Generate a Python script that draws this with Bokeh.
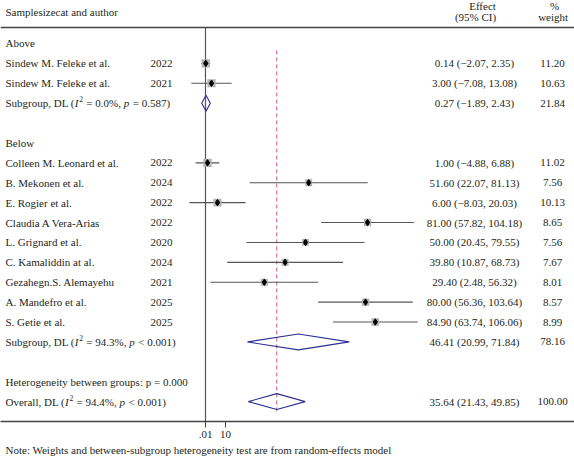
from bokeh.plotting import figure
from bokeh.models import ColumnDataSource, Range1d, Span, FixedTicker, Title
from bokeh.core.properties import value
from bokeh.embed import file_html
from bokeh.resources import INLINE

# ---------------- data ----------------
group_names = ["Above", "Below"]
authors = ["Sindew M. Feleke et al.", "Sindew M. Feleke et al.",
           "Colleen M. Leonard et al.", "B. Mekonen et al.", "E. Rogier et al.",
           "Claudia A Vera-Arias", "L. Grignard et al.", "C. Kamaliddin at al.",
           "Gezahegn.S. Alemayehu", "A. Mandefro et al.", "S. Getie et al."]
years = [2022, 2021, 2022, 2024, 2022, 2022, 2020, 2024, 2021, 2025, 2025]
groups = ["Above", "Above", "Below", "Below", "Below", "Below", "Below",
          "Below", "Below", "Below", "Below"]
effect = [0.14, 3.00, 1.00, 51.60, 6.00, 81.00, 50.00, 39.80, 29.40, 80.00, 84.90]
ci_lo = [-2.07, -7.08, -4.88, 22.07, -8.03, 57.82, 20.45, 10.87, 2.48, 56.36, 63.74]
ci_hi = [2.35, 13.08, 6.88, 81.13, 20.03, 104.18, 79.55, 68.73, 56.32, 103.64, 106.06]
weight = [11.20, 10.63, 11.02, 7.56, 10.13, 8.65, 7.56, 7.67, 8.01, 8.57, 8.99]

sub_est = [0.27, 46.41]
sub_lo = [-1.89, 20.99]
sub_hi = [2.43, 71.84]
sub_w = [21.84, 78.16]
sub_i2 = ["0.0%", "94.3%"]
sub_p = ["= 0.587", "< 0.001"]

overall_est, overall_lo, overall_hi, overall_w = 35.64, 21.43, 49.85, 100.00
overall_i2, overall_p = "94.4%", "< 0.001"
het_between_p = "0.000"

tick_values = [0.01, 10]
tick_labels = [".01", "10"]
note = "Note: Weights and between-subgroup heterogeneity test are from random-effects model"

# ---------------- styles ----------------
FONT = "Liberation Serif"
FS = "11px"
TXT = "#231f20"
LINE = "#555555"
DIA = "#2e3192"

X_LABEL = -100.0
X_YEAR = -16.5
X_EFF = 134.5
X_W = 173.5

def fmt_ci(e, lo, hi):
    return f"{e:.2f} ({lo:.2f}, {hi:.2f})".replace("-", "\u2212")

# Times / Liberation Serif advance widths (per 1000 em)
WID = {' ': 250, ',': 250, '.': 250, '(': 333, ')': 333, '=': 564, '%': 833,
       '<': 564, 'S': 556, 'u': 500, 'b': 500, 'g': 500, 'r': 333, 'o': 500,
       'p': 500, 'D': 722, 'L': 611, 'O': 722, 'v': 500, 'e': 444, 'a': 444,
       'l': 278, 'I': 333}

def tw(s, size=11.0):
    return sum(WID.get(c, 500) for c in s) * size / 1000.0

# ---------------- rows ----------------
lab_rows, lab_txt = [], []
st_rows = []
sub_rows = []
r = 1
for gi, g in enumerate(group_names):
    lab_rows.append(r); lab_txt.append(g); r += 1
    for i, gg in enumerate(groups):
        if gg == g:
            st_rows.append(r); r += 1
    sub_rows.append(r); r += 2
het_row = r
overall_row = r + 1

# studies
st = ColumnDataSource(dict(
    y=st_rows, author=authors, year=[str(v) for v in years],
    e=effect, lo=ci_lo, hi=ci_hi,
    etxt=[fmt_ci(e, lo, hi) for e, lo, hi in zip(effect, ci_lo, ci_hi)],
    wtxt=[f"{w:.2f}" for w in weight],
    box=[2.5 * w ** 0.5 for w in weight],
))

p = figure(frame_width=574, frame_height=421, output_backend="svg",
           toolbar_location=None, x_range=Range1d(-102.5, 184.5),
           y_range=Range1d(20.0, -1.16), y_axis_location=None,
           min_border=0, outline_line_color=None, background_fill_color="white")
p.xgrid.visible = False
p.ygrid.visible = False

# header line
p.add_layout(Span(location=0.2, dimension="width", line_color="#444444", line_width=1.5))

# zero line and overall dashed line
p.segment(x0=[0], y0=[0.2], x1=[0], y1=[20.0], line_color=LINE, line_width=1.2)
p.segment(x0=[overall_est], y0=[1.35], x1=[overall_est], y1=[19.55],
          line_color="#c8586c", line_width=1, line_dash="4 3")

# CIs, boxes, points
p.segment(x0="lo", y0="y", x1="hi", y1="y", source=st, line_color=LINE, line_width=1.1)
p.scatter(x="e", y="y", size="box", marker="square", source=st,
          fill_color="#b3b3b3", line_color=None)
p.scatter(x="e", y="y", size=6.5, marker="diamond", source=st,
          fill_color="black", line_color="black")

# diamonds
dx, dy = [], []
for e, lo, hi, rr in zip(sub_est + [overall_est], sub_lo + [overall_lo],
                         sub_hi + [overall_hi], sub_rows + [overall_row]):
    dx.append([lo, e, hi, e])
    dy.append([rr, rr - 0.4, rr, rr + 0.4])
p.patches(xs=dx, ys=dy, fill_color=None, line_color=DIA, line_width=1.1)

def txt(x, y, text, align="left", size=FS, style="normal", **kw):
    p.text(x=x, y=y, text=text, text_font=value(FONT), text_font_size=size,
           text_font_style=style, text_align=align, text_baseline="middle",
           text_color=TXT, **kw)

# headers
txt([X_LABEL], [-0.56], ["Samplesizecat and author"])
txt([138.5], [-0.86], ["Effect"], align="center")
txt([135.0], [-0.31], ["(95% CI)"], align="center")
txt([174.5], [-0.86], ["%"], align="center")
txt([173.8], [-0.31], ["weight"], align="center")

# group labels
txt([X_LABEL] * len(lab_rows), lab_rows, lab_txt)
# study texts
p.text(x=X_LABEL, y="y", text="author", source=st, text_font=value(FONT),
       text_font_size=FS, text_align="left", text_baseline="middle", text_color=TXT)
p.text(x=X_YEAR, y="y", text="year", source=st, text_font=value(FONT),
       text_font_size=FS, text_align="right", text_baseline="middle", text_color=TXT)
p.text(x=X_EFF, y="y", text="etxt", source=st, text_font=value(FONT),
       text_font_size=FS, text_align="center", text_baseline="middle", text_color=TXT)
p.text(x=X_W, y="y", text="wtxt", source=st, text_font=value(FONT),
       text_font_size=FS, text_align="center", text_baseline="middle", text_color=TXT)

# summary numbers
sum_rows = sub_rows + [overall_row]
txt([X_EFF] * 3, sum_rows,
    [fmt_ci(e, lo, hi) for e, lo, hi in zip(sub_est + [overall_est],
                                            sub_lo + [overall_lo], sub_hi + [overall_hi])],
    align="center")
txt([X_W] * 3, sum_rows, [f"{w:.2f}" for w in sub_w + [overall_w]], align="center")

# summary labels with italic I, superscript 2, italic p
norm = dict(y=[], t=[], o=[])
ital = dict(y=[], t=[], o=[])
sup = dict(y=[], t=[], o=[])
for head, i2, pv, rr in zip(["Subgroup, DL (", "Subgroup, DL ("] + ["Overall, DL ("],
                            sub_i2 + [overall_i2], sub_p + [overall_p], sum_rows):
    off = 0.0
    for piece, kind in [(head, "n"), ("I", "i"), ("2", "s"), (f" = {i2}, ", "n"),
                        ("p", "i"), (f" {pv})", "n")]:
        d = {"n": norm, "i": ital, "s": sup}[kind]
        size = 7.5 if kind == "s" else 11.0
        core = piece.strip(" ")
        lead = len(piece) - len(piece.lstrip(" "))
        trail = len(piece) - len(piece.rstrip(" "))
        off += lead * tw(" ", size)
        d["y"].append(rr); d["t"].append(core); d["o"].append(off)
        off += tw(core, size) + trail * tw(" ", size)
        if kind == "s":
            off += 0.5
        elif kind == "i":
            off += 0.8

for d, style, size, yo in [(norm, "normal", FS, 0), (ital, "italic", FS, 0), (sup, "normal", "7.5px", -4)]:
    src = ColumnDataSource(dict(x=[X_LABEL] * len(d["y"]), y=d["y"], t=d["t"], o=d["o"]))
    p.text(x="x", y="y", text="t", x_offset="o", y_offset=yo, source=src,
           text_font=value(FONT), text_font_size=size, text_font_style=style,
           text_align="left", text_baseline="middle", text_color=TXT)

txt([X_LABEL], [het_row], [f"Heterogeneity between groups: p = {het_between_p}"])

# x axis
ax = p.xaxis[0]
ax.ticker = FixedTicker(ticks=tick_values)
ax.major_label_overrides = {t: l for t, l in zip(tick_values, tick_labels)}
ax.axis_line_color = "#444444"
ax.axis_line_width = 1.5
ax.major_tick_line_color = "#444444"
ax.major_tick_in = 0
ax.major_tick_out = 6
ax.minor_tick_line_color = None
ax.major_label_text_font = FONT
ax.major_label_text_font_size = FS
ax.major_label_text_color = TXT
ax.major_label_standoff = 3

p.add_layout(Title(text=note, align="left", text_font=FONT, text_font_size=FS,
                   text_font_style="normal", text_color=TXT, offset=5, standoff=2),
             "below")

open("out.html", "w").write(file_html(p, INLINE))
